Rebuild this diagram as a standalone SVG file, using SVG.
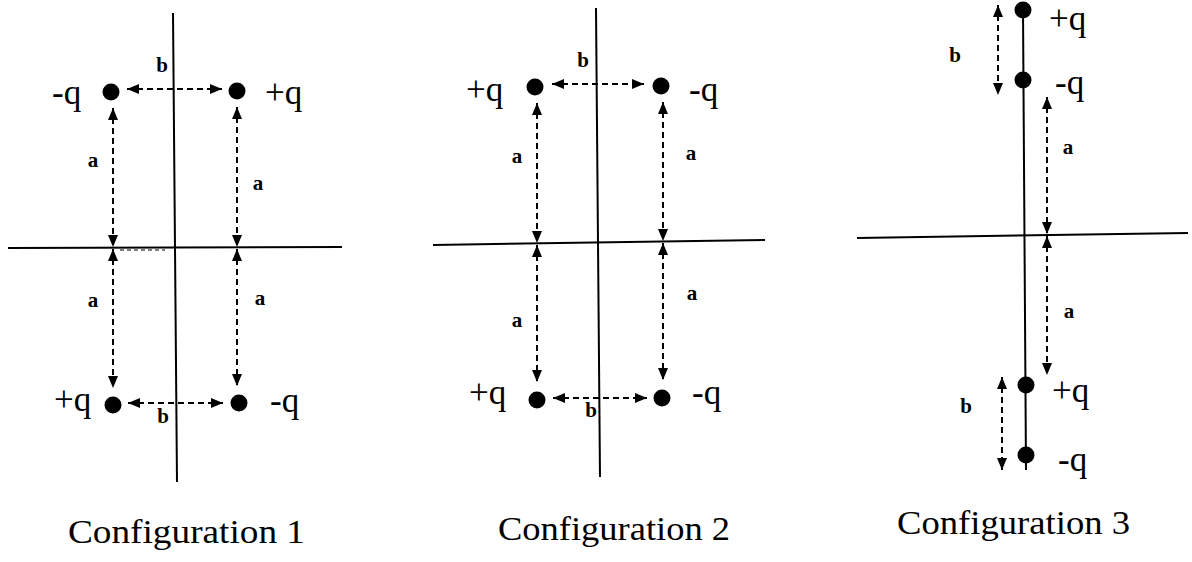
<svg xmlns="http://www.w3.org/2000/svg" width="1192" height="562" viewBox="0 0 1192 562">
<style>
.axis{stroke:#000;stroke-width:2;fill:none}
.dim{stroke:#000;stroke-width:2;stroke-dasharray:6 4;fill:none;marker-start:url(#ah);marker-end:url(#ah)}
.dot{fill:#000}
text{font-family:'Liberation Serif','Times New Roman','DejaVu Serif',serif;fill:#000}
.q{font-size:35px}
.lab{font-size:21px;font-weight:bold;text-anchor:middle}
.cap{font-size:34px}
</style>
<defs>
<marker id="ah" markerUnits="userSpaceOnUse" markerWidth="12" markerHeight="10" refX="12" refY="5" orient="auto-start-reverse">
<path d="M0,0 L12,5 L0,10 z" fill="#000"/>
</marker>
</defs>
<rect width="1192" height="562" fill="#fff"/>

<g id="axes">
<line class="axis" x1="173" y1="13" x2="177" y2="482"/>
<line class="axis" x1="8" y1="248" x2="342" y2="247"/>
<line class="axis" x1="596" y1="8" x2="600" y2="477"/>
<line class="axis" x1="433" y1="245" x2="765" y2="240"/>
<line class="axis" x1="1023" y1="10" x2="1026" y2="470" stroke-width="2.5"/>
<line class="axis" x1="857" y1="238" x2="1188" y2="233"/>
</g>

<g id="connectors">
<line class="dim" x1="113" y1="108" x2="113" y2="247"/>
<line class="dim" x1="237" y1="107" x2="237" y2="247"/>
<line class="dim" x1="113" y1="249" x2="113" y2="388"/>
<line class="dim" x1="237" y1="249" x2="237" y2="386"/>
<line class="dim" x1="127" y1="89" x2="222" y2="89"/>
<line class="dim" x1="128" y1="403" x2="223" y2="403"/>
<line x1="120" y1="250" x2="165" y2="250" stroke="#000" stroke-width="1" stroke-dasharray="4 3"/>

<line class="dim" x1="537" y1="103" x2="537" y2="243"/>
<line class="dim" x1="663" y1="102" x2="663" y2="241"/>
<line class="dim" x1="537" y1="245" x2="537" y2="382"/>
<line class="dim" x1="663" y1="243" x2="663" y2="380"/>
<line class="dim" x1="552" y1="84" x2="644" y2="84"/>
<line class="dim" x1="553" y1="398" x2="647" y2="398"/>

<line class="dim" x1="998" y1="5" x2="998" y2="95"/>
<line class="dim" x1="1047" y1="97" x2="1047" y2="234"/>
<line class="dim" x1="1047" y1="236" x2="1047" y2="375"/>
<line class="dim" x1="1002" y1="377" x2="1002" y2="470"/>
</g>

<g id="config1">
<circle class="dot" cx="111" cy="92" r="8.5"/>
<circle class="dot" cx="237" cy="91" r="8.5"/>
<circle class="dot" cx="113" cy="405" r="8.5"/>
<circle class="dot" cx="239" cy="403" r="8.5"/>
<text class="q" x="52" y="104">-q</text>
<text class="q" x="265" y="104">+q</text>
<text class="q" x="54" y="411">+q</text>
<text class="q" x="270" y="412">-q</text>
<text class="lab" x="93" y="167">a</text>
<text class="lab" x="258" y="190">a</text>
<text class="lab" x="93" y="307">a</text>
<text class="lab" x="260" y="305">a</text>
<text class="lab" x="162" y="72">b</text>
<text class="lab" x="163" y="423" font-weight="normal">b</text>
<text class="cap" x="68" y="543" textLength="237" lengthAdjust="spacingAndGlyphs">Configuration 1</text>
</g>

<g id="config2">
<circle class="dot" cx="535" cy="87" r="8.5"/>
<circle class="dot" cx="661" cy="86" r="8.5"/>
<circle class="dot" cx="537" cy="400" r="8.5"/>
<circle class="dot" cx="662" cy="398" r="8.5"/>
<text class="q" x="466" y="101">+q</text>
<text class="q" x="689" y="101">-q</text>
<text class="q" x="469" y="404">+q</text>
<text class="q" x="692" y="404">-q</text>
<text class="lab" x="517" y="163">a</text>
<text class="lab" x="691" y="160">a</text>
<text class="lab" x="517" y="327">a</text>
<text class="lab" x="692" y="300">a</text>
<text class="lab" x="583" y="67">b</text>
<text class="lab" x="591" y="417" font-weight="normal">b</text>
<text class="cap" x="498" y="540" textLength="232" lengthAdjust="spacingAndGlyphs">Configuration 2</text>
</g>

<g id="config3">
<circle class="dot" cx="1023" cy="10" r="8.5"/>
<circle class="dot" cx="1023" cy="80" r="8.5"/>
<circle class="dot" cx="1026" cy="385" r="8.5"/>
<circle class="dot" cx="1026" cy="455" r="8.5"/>
<text class="q" x="1049" y="30" font-size="33">+q</text>
<text class="q" x="1055" y="94">-q</text>
<text class="q" x="1052" y="402">+q</text>
<text class="q" x="1058" y="471">-q</text>
<text class="lab" x="1068" y="154">a</text>
<text class="lab" x="1069" y="318">a</text>
<text class="lab" x="955" y="62">b</text>
<text class="lab" x="966" y="413">b</text>
<text class="cap" x="897" y="534" textLength="233" lengthAdjust="spacingAndGlyphs">Configuration 3</text>
</g>
</svg>
